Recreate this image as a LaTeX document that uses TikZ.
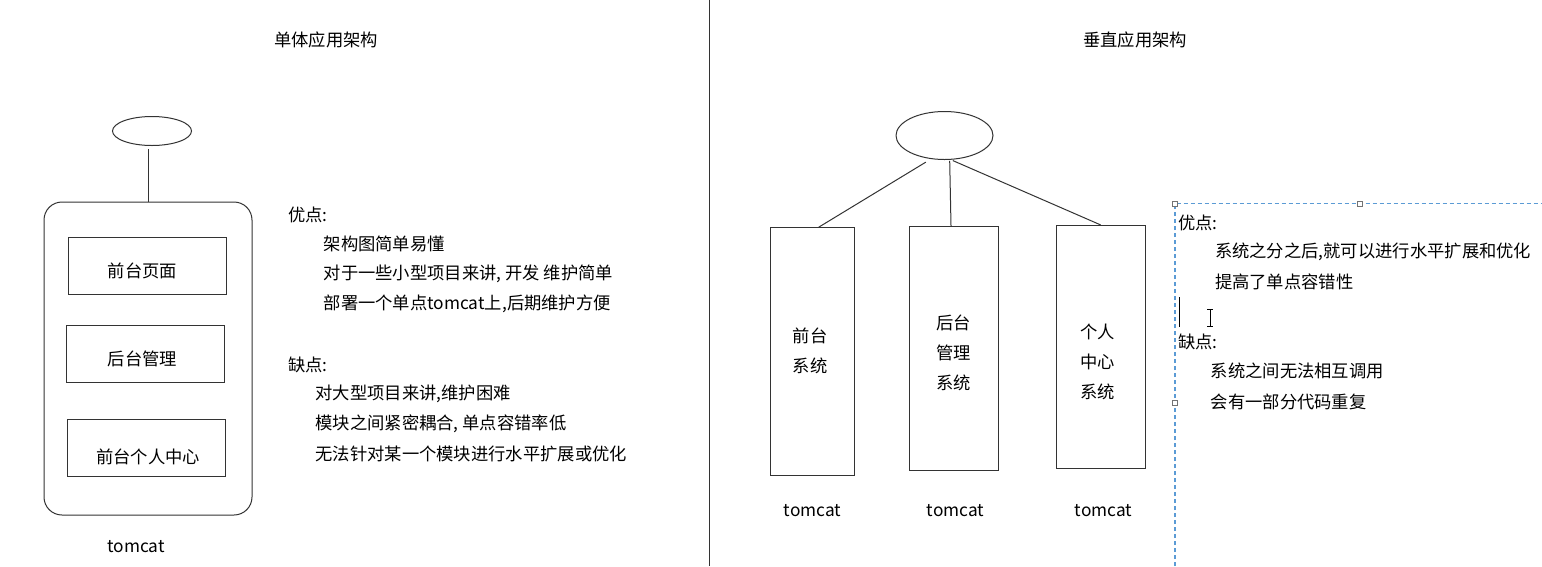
\documentclass[tikz,border=0pt]{standalone}
\usepackage{fontspec}
\setmainfont{Noto Sans CJK SC}
\usetikzlibrary{shapes.geometric}

\begin{document}
\begin{tikzpicture}[
    x=1pt, y=-1pt,
    font=\fontsize{17.3}{30}\selectfont,
    wire/.style={draw=black!80, line width=1pt},
    usernode/.style={ellipse, wire, inner sep=0pt},
    serverbox/.style={rectangle, wire, rounded corners=18pt, minimum width=208pt, minimum height=313pt},
    modbox/.style={rectangle, wire, minimum width=158pt, minimum height=57pt},
    sysbox/.style={rectangle, wire, minimum height=244pt},
    txt/.style={anchor=west, inner sep=0pt},
    boxtxt/.style={inner sep=0pt, align=center},
    selframe/.style={draw={rgb,255:red,91;green,155;blue,213}, line width=1.7pt, dash pattern=on 4.5pt off 2.5pt},
    handle/.style={rectangle, draw=black!55, fill=white, line width=0.7pt, minimum size=5.5pt, inner sep=0pt}
]

\fill[white] (0,0) rectangle (1542,566);
\useasboundingbox (0,0) rectangle (1542,566);

% Trennlinie
\draw[wire] (709,0) -- (709,566);

% ==========================================
% Links: einzelne Anwendung
\node (title1) at (326,40) {单体应用架构};

\node[usernode, minimum width=79pt, minimum height=29pt] (ell1) at (152,131) {};
\node[serverbox] (server1) at (148,358.5) {};
\draw[wire, shorten <=3pt] (server1.north |- ell1.south) -- (server1.north);

\node[modbox] (page1) at (147,265.5) {};
\node[modbox] (admin1) at (145.5,354) {};
\node[modbox] (center1) at (146.7,448.3) {};
\node (page1txt) at (142.5,271) {前台页面};
\node (admin1txt) at (142.5,359) {后台管理};
\node (center1txt) at (148,457) {前台个人中心};
\node (tomcat1) at (136,547) {tomcat};

% Vor- und Nachteile
\node[txt] (pro1) at (288,215) {优点:};
\node[txt] (pro1a) at (323.5,243.5) {架构图简单易懂};
\node[txt] (pro1b) at (323.5,273.5) {对于一些小型项目来讲, 开发 维护简单};
\node[txt] (pro1c) at (323.5,304) {部署一个单点tomcat上,后期维护方便};
\node[txt] (con1) at (288,364.5) {缺点:};
\node[txt] (con1a) at (315.3,393.5) {对大型项目来讲,维护困难};
\node[txt] (con1b) at (315.3,423.5) {模块之间紧密耦合, 单点容错率低};
\node[txt] (con1c) at (315.3,454) {无法针对某一个模块进行水平扩展或优化};

% ==========================================
% Rechts: vertikale Aufteilung
\node (title2) at (1135,40) {垂直应用架构};

\node[usernode, minimum width=97pt, minimum height=48pt] (ell2) at (944.5,135.5) {};
\node[sysbox, minimum width=84pt, minimum height=248pt] (front) at (812.7,351.7) {};
\node[sysbox, minimum width=89pt] (back) at (954,348.3) {};
\node[sysbox, minimum width=89pt, minimum height=243pt] (personal) at (1100.6,346.9) {};

\draw[wire, shorten <=6pt] (ell2.240) -- ([xshift=6pt]front.north);
\draw[wire, shorten <=1pt] (ell2.282) -- ([xshift=-3pt]back.north);
\draw[wire, shorten <=2pt] (ell2.285) -- (personal.north);

\node[boxtxt] (fronttxt) at (810,351) {前台\\系统};
\node[boxtxt] (backtxt) at (953.5,352.4) {后台\\管理\\系统};
\node[boxtxt] (personaltxt) at (1097.5,361.4) {个人\\中心\\系统};

\node (tomcatA) at (812.5,511) {tomcat};
\node (tomcatB) at (955.5,511) {tomcat};
\node (tomcatC) at (1103.5,511) {tomcat};

% markiertes Textfeld
\draw[selframe] (1175,566) -- (1175,203.6) -- (1542,203.6);
\node[handle] (h1) at (1175,203.6) {};
\node[handle] (h2) at (1359.8,203.6) {};
\node[handle] (h3) at (1175,402.9) {};

\node[txt] (pro2) at (1178,222.7) {优点:};
\node[txt] (pro2a) at (1214.8,252) {系统之分之后,就可以进行水平扩展和优化};
\node[txt] (pro2b) at (1214.8,281.8) {提高了单点容错性};
\node[txt] (con2) at (1178,341.6) {缺点:};
\node[txt] (con2a) at (1210.6,371) {系统之间无法相互调用};
\node[txt] (con2b) at (1210.6,401.8) {会有一部分代码重复};

% Cursor
\draw[line width=1.2pt] (1179.3,297) -- (1179.3,326.7);
\draw[line width=0.9pt] (1210,309.5) -- (1210,325.5)
    (1207,309) -- (1213,309) (1207,326) -- (1213,326);

\end{tikzpicture}
\end{document}
